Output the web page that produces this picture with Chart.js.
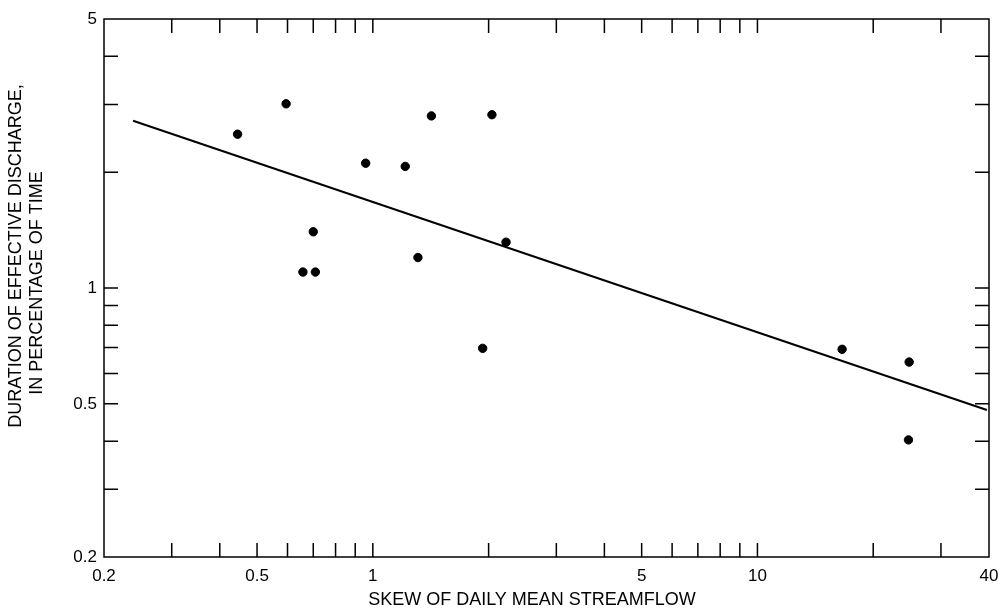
<!DOCTYPE html>
<html>
<head>
<meta charset="utf-8">
<script src="https://cdn.jsdelivr.net/npm/chart.js@4/dist/chart.umd.min.js"></script>
<style>
  html, body { margin: 0; padding: 0; background: #fff; }
  #wrap { width: 1001px; height: 612px; }
</style>
</head>
<body>
<div id="wrap"><canvas id="chart" width="1001" height="612"></canvas></div>
<script>
// skew of daily mean streamflow vs duration of effective discharge (%)
const skew = [0.445, 0.595, 0.958, 1.214, 1.42, 2.04, 0.70, 0.658, 0.709, 1.31, 2.22, 1.93, 16.6, 24.8, 24.7];
const duration = [2.51, 3.01, 2.11, 2.07, 2.80, 2.82, 1.40, 1.10, 1.10, 1.20, 1.315, 0.697, 0.693, 0.642, 0.403];

// fitted line end points
const fitX = [0.238, 39.5];
const fitY = [2.72, 0.482];

const xLabels = [0.2, 0.5, 1, 5, 10, 40];
const yLabels = [0.2, 0.5, 1, 5];
const xMinor = [0.3, 0.4, 0.5, 0.6, 0.7, 0.8, 0.9, 1, 2, 3, 4, 5, 6, 7, 8, 9, 10, 20, 30];
const yMinor = [0.3, 0.4, 0.5, 0.6, 0.7, 0.8, 0.9, 1, 2, 3, 4];

const FONT = "'Liberation Sans', Arial, Helvetica, sans-serif";

const frameTicks = {
    id: "frameTicks",
    afterDraw(chart) {
        const { ctx, chartArea: a, scales } = chart;
        const len = 14;
        ctx.save();
        ctx.strokeStyle = "#000";
        ctx.lineWidth = 1.5;
        ctx.strokeRect(a.left, a.top, a.right - a.left, a.bottom - a.top);
        ctx.beginPath();
        xMinor.forEach(v => {
            const px = scales.x.getPixelForValue(v);
            ctx.moveTo(px, a.bottom); ctx.lineTo(px, a.bottom - len);
            ctx.moveTo(px, a.top); ctx.lineTo(px, a.top + len);
        });
        yMinor.forEach(v => {
            const py = scales.y.getPixelForValue(v);
            ctx.moveTo(a.left, py); ctx.lineTo(a.left + len, py);
            ctx.moveTo(a.right, py); ctx.lineTo(a.right - len, py);
        });
        ctx.stroke();

        // axis titles
        ctx.fillStyle = "#000";
        ctx.font = "18px " + FONT;
        ctx.textAlign = "center";
        ctx.textBaseline = "middle";
        ctx.fillText("SKEW OF DAILY MEAN STREAMFLOW", 532, 600);
        ctx.save();
        ctx.translate(16, 256);
        ctx.rotate(-Math.PI / 2);
        ctx.fillText("DURATION OF EFFECTIVE DISCHARGE,", 0, 0);
        ctx.restore();
        ctx.save();
        ctx.translate(37, 283);
        ctx.rotate(-Math.PI / 2);
        ctx.fillText("IN PERCENTAGE OF TIME", 0, 0);
        ctx.restore();
        ctx.restore();
    }
};

new Chart(document.getElementById("chart"), {
    type: "scatter",
    data: {
        datasets: [
            {
                data: skew.map((x, i) => ({ x: x, y: duration[i] })),
                backgroundColor: "#000",
                borderColor: "#000",
                pointRadius: 4.2,
                pointHoverRadius: 4.2
            },
            {
                type: "line",
                data: fitX.map((x, i) => ({ x: x, y: fitY[i] })),
                borderColor: "#000",
                borderWidth: 2,
                pointRadius: 0,
                fill: false
            }
        ]
    },
    options: {
        responsive: false,
        animation: false,
        layout: { padding: { top: 19, right: 12, left: 0, bottom: 0 } },
        plugins: { legend: { display: false }, tooltip: { enabled: false } },
        scales: {
            x: {
                type: "logarithmic",
                min: 0.2,
                max: 40,
                grid: { display: false, drawTicks: false },
                border: { display: false },
                afterBuildTicks: s => { s.ticks = xLabels.map(v => ({ value: v })); },
                afterFit: s => { s.height = 55; s.paddingLeft = 0; s.paddingRight = 0; },
                ticks: {
                    padding: 9,
                    color: "#000",
                    maxRotation: 0,
                    font: { family: FONT, size: 17 },
                    callback: v => String(v)
                }
            },
            y: {
                type: "logarithmic",
                min: 0.2,
                max: 5,
                grid: { display: false, drawTicks: false },
                border: { display: false },
                afterBuildTicks: s => { s.ticks = yLabels.map(v => ({ value: v })); },
                afterFit: s => { s.width = 104; s.paddingTop = 0; s.paddingBottom = 0; },
                ticks: {
                    padding: 7,
                    color: "#000",
                    font: { family: FONT, size: 17 },
                    callback: v => String(v)
                }
            }
        }
    },
    plugins: [frameTicks]
});
</script>
</body>
</html>
